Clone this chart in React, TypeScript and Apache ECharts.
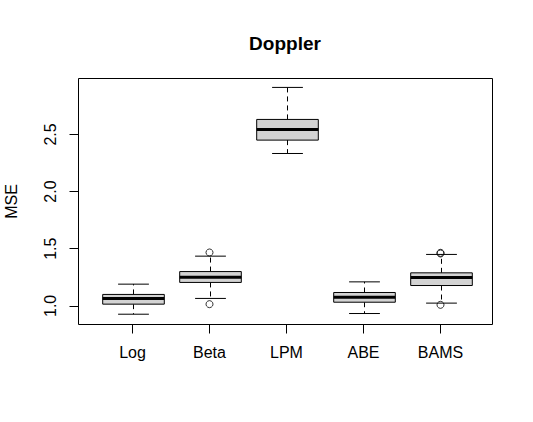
import React, { useEffect, useRef } from "react";
import * as echarts from "echarts";

const categories = ["Log", "Beta", "LPM", "ABE", "BAMS"];
const whiskerLow = [0.927, 1.065, 2.333, 0.933, 1.024];
const q1 = [1.015, 1.205, 2.45, 1.032, 1.178];
const median = [1.065, 1.25, 2.543, 1.076, 1.248];
const q3 = [1.1, 1.3, 2.631, 1.117, 1.289];
const whiskerHigh = [1.19, 1.435, 2.911, 1.21, 1.45];
const outliers: [number, number][] = [
  [1, 1.467],
  [1, 1.015],
  [4, 1.464],
  [4, 1.458],
  [4, 1.009],
];
const yTicks = [1.0, 1.5, 2.0, 2.5];

const FONT = "'Liberation Sans', Arial, sans-serif";

export default function App() {
  const ref = useRef<HTMLDivElement>(null);
  useEffect(() => {
    document.body.style.margin = "0";
    if (!ref.current) return;
    const chart = echarts.init(ref.current, undefined, { renderer: "svg" });
    const boxData = categories.map((_, i) => [
      i,
      whiskerLow[i],
      q1[i],
      median[i],
      q3[i],
      whiskerHigh[i],
    ]);
    const gridLeft = 94;
    const gridWidth = 385;
    const frameLeft = 78.5;
    const frameTop = 78.5;
    const frameRight = 492.5;
    const frameBottom = 324.5;
    chart.setOption({
      animation: false,
      backgroundColor: "#ffffff",
      title: {
        text: "Doppler",
        left: 280,
        top: 29,
        textAlign: "center",
        textStyle: {
          fontFamily: FONT,
          fontSize: 19,
          fontWeight: "bold",
          color: "#000",
        },
      },
      grid: {
        left: gridLeft,
        width: gridWidth,
        top: frameTop,
        height: frameBottom - frameTop,
        containLabel: false,
        outerBoundsMode: "none",
      },
      xAxis: {
        type: "category",
        data: categories,
        boundaryGap: true,
        axisLine: { show: false },
        axisTick: {
          show: true,
          alignWithLabel: true,
          length: 9,
          lineStyle: { color: "#000", width: 1 },
        },
        axisLabel: {
          margin: 20,
          fontFamily: FONT,
          fontSize: 16,
          color: "#000",
        },
        splitLine: { show: false },
      },
      yAxis: {
        type: "value",
        min: 0.837,
        max: 2.989,
        offset: gridLeft - frameLeft,
        name: "MSE",
        nameLocation: "middle",
        nameGap: 59,
        nameTextStyle: { fontFamily: FONT, fontSize: 16, color: "#000" },
        axisLine: { show: false },
        axisTick: {
          show: true,
          length: 9,
          customValues: yTicks,
          lineStyle: { color: "#000", width: 1 },
        },
        axisLabel: {
          rotate: 90,
          margin: 20,
          customValues: yTicks,
          fontFamily: FONT,
          fontSize: 16,
          color: "#000",
          formatter: (v: number) => v.toFixed(1),
        },
        splitLine: { show: false },
      },
      graphic: [
        {
          type: "rect",
          shape: {
            x: frameLeft,
            y: frameTop,
            width: frameRight - frameLeft,
            height: frameBottom - frameTop,
          },
          style: { fill: "none", stroke: "#000", lineWidth: 1 },
          z: 100,
          silent: true,
        },
      ],
      series: [
        {
          type: "custom",
          data: boxData,
          encode: { x: 0, y: [1, 2, 3, 4, 5] },
          renderItem: (params: any, api: any) => {
            const idx = api.value(0);
            const pLow = api.coord([idx, api.value(1)]);
            const pQ1 = api.coord([idx, api.value(2)]);
            const pMed = api.coord([idx, api.value(3)]);
            const pQ3 = api.coord([idx, api.value(4)]);
            const pHigh = api.coord([idx, api.value(5)]);
            const band = api.size([1, 0])[0];
            const bw = band * 0.8;
            const cw = bw / 2;
            const cx = Math.round(pMed[0]) + 0.5;
            const dashed = { stroke: "#000", lineWidth: 1, lineDash: [5, 4] };
            const solid = { stroke: "#000", lineWidth: 1 };
            return {
              type: "group",
              children: [
                {
                  type: "line",
                  shape: { x1: cx, y1: pQ3[1], x2: cx, y2: pHigh[1] },
                  style: dashed,
                },
                {
                  type: "line",
                  shape: { x1: cx, y1: pQ1[1], x2: cx, y2: pLow[1] },
                  style: dashed,
                },
                {
                  type: "line",
                  shape: { x1: cx - cw / 2, y1: pHigh[1], x2: cx + cw / 2, y2: pHigh[1] },
                  style: solid,
                },
                {
                  type: "line",
                  shape: { x1: cx - cw / 2, y1: pLow[1], x2: cx + cw / 2, y2: pLow[1] },
                  style: solid,
                },
                {
                  type: "rect",
                  shape: {
                    x: cx - bw / 2,
                    y: pQ3[1],
                    width: bw,
                    height: pQ1[1] - pQ3[1],
                  },
                  style: { fill: "#d3d3d3", stroke: "#000", lineWidth: 1 },
                },
                {
                  type: "line",
                  shape: { x1: cx - bw / 2, y1: pMed[1], x2: cx + bw / 2, y2: pMed[1] },
                  style: { stroke: "#000", lineWidth: 3 },
                },
              ],
            };
          },
        },
        {
          type: "scatter",
          data: outliers,
          symbol: "circle",
          symbolSize: 7,
          itemStyle: { color: "none", borderColor: "#000", borderWidth: 1 },
          z: 3,
        },
      ],
    });
    return () => chart.dispose();
  }, []);
  return <div ref={ref} style={{ width: 533, height: 422 }} />;
}
